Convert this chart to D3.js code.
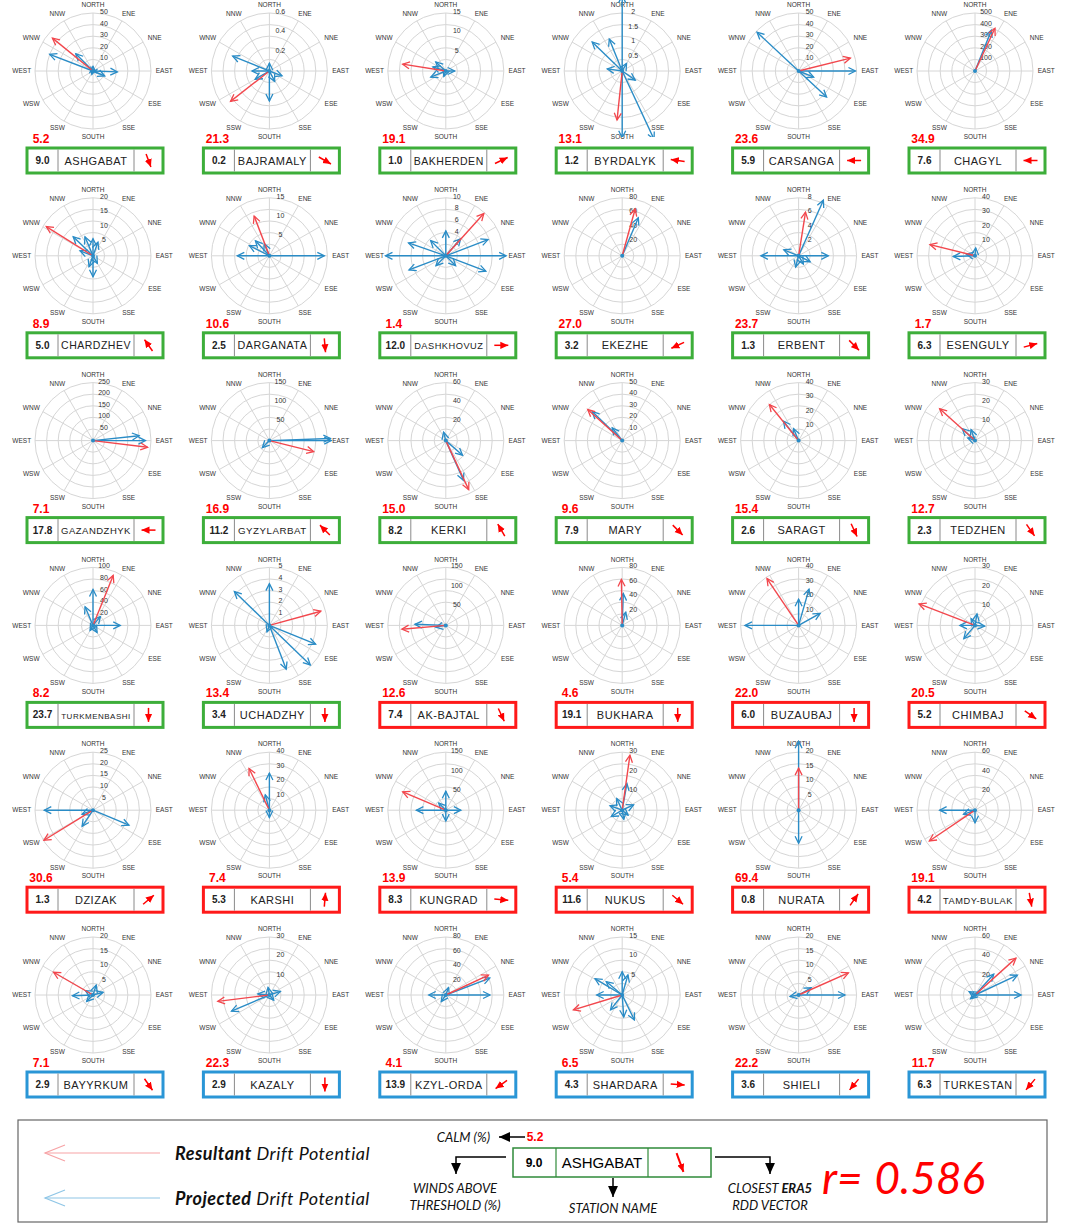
<!DOCTYPE html>
<html>
<head>
<meta charset="utf-8">
<script src="https://cdn.jsdelivr.net/npm/d3@7"></script>
<style>
  body { margin: 0; background: #fff; }
  svg { display: block; }
</style>
</head>
<body>
<div id="chart"></div>
<script>
var stations = ["ASHGABAT", "BAJRAMALY", "BAKHERDEN", "BYRDALYK", "CARSANGA", "CHAGYL",
    "CHARDZHEV", "DARGANATA", "DASHKHOVUZ", "EKEZHE", "ERBENT", "ESENGULY",
    "GAZANDZHYK", "GYZYLARBAT", "KERKI", "MARY", "SARAGT", "TEDZHEN",
    "TURKMENBASHI", "UCHADZHY", "AK-BAJTAL", "BUKHARA", "BUZAUBAJ", "CHIMBAJ",
    "DZIZAK", "KARSHI", "KUNGRAD", "NUKUS", "NURATA", "TAMDY-BULAK",
    "BAYYRKUM", "KAZALY", "KZYL-ORDA", "SHARDARA", "SHIELI", "TURKESTAN"];

// TM = green, UZ = red, KZ = blue
var country = ["TM", "TM", "TM", "TM", "TM", "TM",
    "TM", "TM", "TM", "TM", "TM", "TM",
    "TM", "TM", "TM", "TM", "TM", "TM",
    "TM", "TM", "UZ", "UZ", "UZ", "UZ",
    "UZ", "UZ", "UZ", "UZ", "UZ", "UZ",
    "KZ", "KZ", "KZ", "KZ", "KZ", "KZ"];

var calm = [5.2, 21.3, 19.1, 13.1, 23.6, 34.9,
    8.9, 10.6, 1.4, 27.0, 23.7, 1.7,
    7.1, 16.9, 15.0, 9.6, 15.4, 12.7,
    8.2, 13.4, 12.6, 4.6, 22.0, 20.5,
    30.6, 7.4, 13.9, 5.4, 69.4, 19.1,
    7.1, 22.3, 4.1, 6.5, 22.2, 11.7];

var aboveThreshold = [9.0, 0.2, 1.0, 1.2, 5.9, 7.6,
    5.0, 2.5, 12.0, 3.2, 1.3, 6.3,
    17.8, 11.2, 8.2, 7.9, 2.6, 2.3,
    23.7, 3.4, 7.4, 19.1, 6.0, 5.2,
    1.3, 5.3, 8.3, 11.6, 0.8, 4.2,
    2.9, 2.9, 13.9, 4.3, 3.6, 6.3];

var scaleMax = [50, 0.6, 15, 2, 50, 500,
    20, 15, 10, 80, 8, 40,
    250, 150, 60, 50, 40, 30,
    100, 5, 150, 80, 40, 30,
    25, 40, 150, 30, 20, 60,
    20, 30, 80, 15, 20, 60];

var tickStep = [10, 0.2, 5, 0.5, 10, 100,
    5, 5, 2, 20, 2, 10,
    50, 50, 20, 10, 10, 10,
    20, 1, 50, 20, 10, 10,
    5, 10, 50, 10, 5, 20,
    5, 10, 20, 5, 5, 20];

// closest ERA5 RDD vector, compass degrees the arrow points to
var era5Dir = [160, 120, 65, 278, 270, 270,
    325, 175, 90, 245, 135, 75,
    270, 315, 330, 135, 155, 145,
    180, 180, 155, 180, 180, 125,
    50, 5, 95, 130, 35, 170,
    145, 180, 235, 95, 220, 220];

// resultant drift potential [direction, magnitude]
var resultant = [[309, 45], [232, 0.51], [279, 11.3], [186, 1.7], [76, 46], [25, 407],
    [302, 19], [339, 11], [42, 9.8], [15.5, 67], [9, 6.1], [284, 32],
    [97, 237], [104, 118], [155, 56], [312, 40], [321, 32], [312, 24.6],
    [22, 93], [74.6, 4.6], [265, 114], [359, 63.5], [326, 39], [291, 31],
    [238.5, 24.8], [334, 32], [293, 121], [8, 28.7], [0, 14.5], [236, 57],
    [300, 15.7], [263, 26.9], [65, 65], [253, 13.2], [66, 18.8], [48, 57]];

// projected drift potential [direction, magnitude] per station
var projected = [
    [[291, 40], [315, 21], [92, 21], [113, 11], [0, 4], [200, 3]],
    [[292, 0.41], [180, 0.31], [270, 0.18], [111, 0.14], [0, 0.08], [153, 0.12], [240, 0.17]],
    [[312, 3.5], [248, 4.2], [90, 2.3], [287, 3.5], [200, 1.5]],
    [[0, 2.6], [180, 2.3], [155, 2.6], [314, 1.44], [338, 1.19], [278, 0.52], [125, 0.55], [30, 0.3]],
    [[90, 49], [313, 49], [133, 33], [112, 14]],
    [[22, 380]],
    [[314, 9.5], [337, 7.1], [0, 5.9], [20, 5], [291, 4.8], [180, 7.2], [200, 4], [150, 3]],
    [[90, 14.2], [270, 8.3], [297, 5.8], [317, 5.3], [337, 3.4]],
    [[270, 10.4], [90, 10.4], [69, 7.8], [111, 7.4], [289, 6.8], [249, 6.8], [0, 4.3], [315, 3.7], [41, 3.9], [135, 2.4], [225, 2.4]],
    [[23, 57]],
    [[24, 8.4], [270, 5.2], [90, 4.1], [292, 2.2], [117, 1.8], [195, 1.6], [150, 1.3]],
    [[268, 15], [5, 5.5], [280, 6]],
    [[90, 226], [84, 200]],
    [[90, 160], [88, 158], [225, 26]],
    [[156, 45], [131, 23], [345, 9]],
    [[314, 36], [322, 14]],
    [[322, 17], [337, 9]],
    [[313, 9], [340, 6], [290, 4]],
    [[0, 62], [337, 35], [90, 47], [150, 14], [210, 10], [40, 20]],
    [[314, 4.2], [0, 3.6], [112, 4.3], [134, 4.9], [159, 4.05], [200, 0.6]],
    [[272, 80], [260, 26]],
    [[2, 44], [15, 19]],
    [[270, 37], [16, 26], [0, 18], [61, 17]],
    [[10, 6], [270, 7.8], [95, 5], [220, 9], [330, 4]],
    [[270, 21], [112.6, 16.8], [214, 8.4], [250, 5]],
    [[0, 25.6], [345, 11], [180, 5]],
    [[270, 76], [0, 49], [90, 39], [180, 28], [315, 26]],
    [[10, 14], [290, 6.7], [65, 6.5], [240, 6.5], [170, 4.8], [130, 4], [335, 6.7]],
    [[0, 23.8], [180, 11.4]],
    [[270, 36.6], [180, 13], [250, 12.6]],
    [[268, 7.1], [18, 3.6], [75, 3.6], [225, 3.1], [300, 3]],
    [[247, 21.3], [72, 6], [275, 6], [350, 4], [140, 3.5]],
    [[90, 61], [69, 65], [270, 23.5], [20, 11], [215, 11]],
    [[270, 6.6], [301, 8.2], [310, 5.4], [154, 7.2], [176, 5.7], [218, 4.9], [16, 5.4], [0, 6]],
    [[90, 16], [60, 5], [260, 3]],
    [[90, 47.7], [65, 48.4], [42, 29], [300, 7], [230, 6]]
];

var dirLabels = ["NORTH", "ENE", "NNE", "EAST", "ESE", "SSE", "SOUTH", "SSW", "WSW", "WEST", "WNW", "NNW"];

var RED = "#f2474d", BLUE = "#2a8cc6";
var R = 58;

var boxColor = d3.scaleOrdinal()
    .domain(["TM", "UZ", "KZ"])
    .range(["#3dae3a", "#ff1a1a", "#2a96d6"]);

var colX = d3.scaleLinear().domain([0, 5]).range([93, 975]);
var rowY = d3.scaleLinear().domain([0, 5]).range([71, 995]);

var svg = d3.select("#chart")
    .append("svg")
    .attr("width", 1065)
    .attr("height", 1226);

var defs = svg.append("defs");

function openHead(id, color) {
    defs.append("marker")
        .attr("id", id)
        .attr("viewBox", "-8 -5 10 10")
        .attr("markerUnits", "userSpaceOnUse")
        .attr("markerWidth", 10)
        .attr("markerHeight", 10)
        .attr("refX", 0).attr("refY", 0)
        .attr("orient", "auto")
        .append("path")
        .attr("d", "M-7,-3.5L0,0L-7,3.5")
        .attr("fill", "none")
        .attr("stroke", color)
        .attr("stroke-width", 1.3);
}
openHead("headRed", RED);
openHead("headBlue", BLUE);

function solidHead(id, color, size) {
    defs.append("marker")
        .attr("id", id)
        .attr("viewBox", "-10 -5 10 10")
        .attr("markerUnits", "userSpaceOnUse")
        .attr("markerWidth", size)
        .attr("markerHeight", size)
        .attr("refX", 0).attr("refY", 0)
        .attr("orient", "auto")
        .append("path")
        .attr("d", "M-10,-4.5L0,0L-10,4.5Z")
        .attr("fill", color);
}
solidHead("era5Head", "#ff0000", 8);
solidHead("blackHead", "#000", 11);

function polar(deg, r) {
    var a = deg * Math.PI / 180;
    return [r * Math.sin(a), -r * Math.cos(a)];
}

// shrink a text until it fits in a cell
function fit(text, maxWidth, size) {
    var node = text.node();
    while (node.getComputedTextLength() > maxWidth && size > 6) {
        size -= 0.25;
        text.style("font-size", size + "px");
    }
}

stations.forEach(function (name, i) {
    var cx = colX(i % 6), cy = rowY(Math.floor(i / 6));
    var r = d3.scaleLinear().domain([0, scaleMax[i]]).range([0, R]);

    defs.append("clipPath")
        .attr("id", "clip" + i)
        .append("rect")
        .attr("x", -88).attr("y", -72)
        .attr("width", 176).attr("height", 138);

    var g = svg.append("g")
        .attr("transform", "translate(" + cx + "," + cy + ")");

    // grid rings and spokes
    g.selectAll(".ring")
        .data(d3.range(1, 6))
        .enter()
        .append("circle")
        .attr("r", function (d) { return R * d / 5; })
        .attr("fill", "none")
        .attr("stroke", "#d6d6d6")
        .attr("stroke-width", 1);

    g.selectAll(".spoke")
        .data(d3.range(12))
        .enter()
        .append("line")
        .attr("x2", function (d) { return polar(d * 30, R)[0]; })
        .attr("y2", function (d) { return polar(d * 30, R)[1]; })
        .attr("stroke", "#d6d6d6")
        .attr("stroke-width", 1);

    g.selectAll(".dirLabel")
        .data(dirLabels)
        .enter()
        .append("text")
        .attr("x", function (d, k) { return polar(k * 30, 66)[0] * 1.08; })
        .attr("y", function (d, k) { return polar(k * 30, 66)[1]; })
        .attr("dy", "0.35em")
        .attr("text-anchor", "middle")
        .style("font-family", "Liberation Sans, Arial, sans-serif")
        .style("font-size", "6.5px")
        .style("fill", "#333")
        .text(function (d) { return d; });

    var ticks = d3.range(1, Math.round(scaleMax[i] / tickStep[i]) + 1).map(function (k) {
        return +(k * tickStep[i]).toFixed(2);
    });
    g.selectAll(".tick")
        .data(ticks)
        .enter()
        .append("text")
        .attr("x", 11)
        .attr("y", function (d) { return -r(d) + 1; })
        .attr("text-anchor", "middle")
        .style("font-family", "Liberation Sans, Arial, sans-serif")
        .style("font-size", "7px")
        .style("fill", "#333")
        .text(function (d) { return d; });

    // arrows
    var arrows = g.append("g").attr("clip-path", "url(#clip" + i + ")");
    arrows.selectAll(".blue")
        .data(projected[i])
        .enter()
        .append("line")
        .attr("x2", function (d) { return polar(d[0], r(d[1]))[0]; })
        .attr("y2", function (d) { return polar(d[0], r(d[1]))[1]; })
        .attr("stroke", BLUE)
        .attr("stroke-width", 1.4)
        .attr("marker-end", "url(#headBlue)");

    arrows.append("line")
        .datum(resultant[i])
        .attr("x2", function (d) { return polar(d[0], r(d[1]))[0]; })
        .attr("y2", function (d) { return polar(d[0], r(d[1]))[1]; })
        .attr("stroke", RED)
        .attr("stroke-width", 1.4)
        .attr("marker-end", "url(#headRed)");

    g.append("circle").attr("r", 2).attr("fill", BLUE);

    // station box
    var bx = -66, by = 77, w1 = 31, w2 = 76, w3 = 29, bh = 25;
    var box = g.append("g").attr("transform", "translate(" + bx + "," + by + ")");
    box.append("rect")
        .attr("width", w1 + w2 + w3).attr("height", bh)
        .attr("fill", "#fff")
        .attr("stroke", boxColor(country[i]))
        .attr("stroke-width", 3);
    box.selectAll(".div")
        .data([w1, w1 + w2])
        .enter()
        .append("line")
        .attr("x1", function (d) { return d; }).attr("x2", function (d) { return d; })
        .attr("y1", 1.5).attr("y2", bh - 1.5)
        .attr("stroke", "#8a8a8a")
        .attr("stroke-width", 1);
    var valText = box.append("text")
        .attr("x", w1 / 2).attr("y", bh / 2 + 3.5)
        .attr("text-anchor", "middle")
        .style("font-family", "Liberation Sans, Arial, sans-serif")
        .style("font-size", "10px")
        .style("font-weight", "bold")
        .style("fill", "#222")
        .text(aboveThreshold[i].toFixed(1));
    fit(valText, w1 - 8, 10);
    var nameText = box.append("text")
        .attr("x", w1 + w2 / 2).attr("y", bh / 2 + 4)
        .attr("text-anchor", "middle")
        .style("font-family", "Liberation Sans, Arial, sans-serif")
        .style("font-size", "11px")
        .style("letter-spacing", "0.5px")
        .style("fill", "#222")
        .text(name);
    fit(nameText, w2 - 6, 11);
    var ac = [w1 + w2 + w3 / 2, bh / 2];
    var half = polar(era5Dir[i], 7);
    box.append("line")
        .attr("x1", ac[0] - half[0]).attr("y1", ac[1] - half[1])
        .attr("x2", ac[0] + half[0]).attr("y2", ac[1] + half[1])
        .attr("stroke", "#ff0000")
        .attr("stroke-width", 1.5)
        .attr("marker-end", "url(#era5Head)");

    g.append("text")
        .attr("x", bx + 14).attr("y", by - 5)
        .attr("text-anchor", "middle")
        .style("font-family", "Liberation Sans Narrow, Liberation Sans, Arial, sans-serif")
        .style("font-size", "12px")
        .style("font-weight", "bold")
        .style("fill", "#ff0000")
        .text(calm[i].toFixed(1));
});

// legend
var lg = svg.append("g");
lg.append("rect")
    .attr("x", 18).attr("y", 1120)
    .attr("width", 1029).attr("height", 102)
    .attr("fill", "none")
    .attr("stroke", "#666")
    .attr("stroke-width", 1.2);

var legendItems = [["Resultant", "#f7a3a6", 1153], ["Projected", "#8fc6e6", 1198]];
legendItems.forEach(function (d) {
    lg.append("line")
        .attr("x1", 160).attr("y1", d[2]).attr("x2", 45).attr("y2", d[2])
        .attr("stroke", d[1]).attr("stroke-width", 1.2);
    lg.append("path")
        .attr("d", "M65," + (d[2] - 8) + "L45," + d[2] + "L65," + (d[2] + 8))
        .attr("fill", "none")
        .attr("stroke", d[1]).attr("stroke-width", 1.2);
    var t = lg.append("text")
        .attr("x", 175).attr("y", d[2] + 7)
        .style("font-family", "Lato, Open Sans, sans-serif")
        .style("font-size", "18px")
        .style("font-style", "italic")
        .style("letter-spacing", "0.5px")
        .style("fill", "#111");
    t.append("tspan").style("font-weight", "bold").text(d[0]);
    t.append("tspan").text(" Drift Potential");
});

var italic = function (sel) {
    return sel.style("font-family", "Lato, Open Sans, sans-serif")
        .style("font-size", "13px")
        .style("font-style", "italic")
        .style("fill", "#111");
};

// example box
var ex = lg.append("g").attr("transform", "translate(513,1148)");
ex.append("rect").attr("width", 198).attr("height", 29)
    .attr("fill", "#fff").attr("stroke", "#2f8a3a").attr("stroke-width", 1.5);
[43, 135].forEach(function (x) {
    ex.append("line").attr("x1", x).attr("x2", x).attr("y1", 0).attr("y2", 29)
        .attr("stroke", "#2f8a3a").attr("stroke-width", 1.2);
});
ex.append("text").attr("x", 21).attr("y", 19).attr("text-anchor", "middle")
    .style("font-family", "Liberation Sans, Arial, sans-serif").style("font-size", "12px")
    .style("font-weight", "bold").text(aboveThreshold[0].toFixed(1));
ex.append("text").attr("x", 89).attr("y", 20).attr("text-anchor", "middle")
    .style("font-family", "Liberation Sans, Arial, sans-serif").style("font-size", "15px")
    .text(stations[0]);
var exHalf = polar(era5Dir[0], 10);
ex.append("line")
    .attr("x1", 167 - exHalf[0]).attr("y1", 14.5 - exHalf[1])
    .attr("x2", 167 + exHalf[0]).attr("y2", 14.5 + exHalf[1])
    .attr("stroke", "#ff0000").attr("stroke-width", 2)
    .attr("marker-end", "url(#era5Head)");

lg.append("text").attr("x", 535).attr("y", 1141).attr("text-anchor", "middle")
    .style("font-family", "Liberation Sans Narrow, Liberation Sans, Arial, sans-serif")
    .style("font-size", "12px").style("font-weight", "bold").style("fill", "#ff0000")
    .text(calm[0].toFixed(1));

var pointers = [
    "M525,1137H499",
    "M506,1157H456V1174",
    "M613,1178V1197",
    "M715,1157H770V1174"
];
lg.selectAll(".pointer")
    .data(pointers)
    .enter()
    .append("path")
    .attr("d", function (d) { return d; })
    .attr("fill", "none")
    .attr("stroke", "#000")
    .attr("stroke-width", 1.5)
    .attr("marker-end", "url(#blackHead)");

italic(lg.append("text").attr("x", 490).attr("y", 1142).attr("text-anchor", "end")).text("CALM (%)");
italic(lg.append("text").attr("x", 455).attr("y", 1193).attr("text-anchor", "middle")).text("WINDS ABOVE");
italic(lg.append("text").attr("x", 455).attr("y", 1210).attr("text-anchor", "middle")).text("THRESHOLD (%)");
italic(lg.append("text").attr("x", 613).attr("y", 1213).attr("text-anchor", "middle")).text("STATION NAME");
var era = italic(lg.append("text").attr("x", 770).attr("y", 1193).attr("text-anchor", "middle"));
era.append("tspan").text("CLOSEST ");
era.append("tspan").style("font-weight", "bold").text("ERA5");
italic(lg.append("text").attr("x", 770).attr("y", 1210).attr("text-anchor", "middle")).text("RDD VECTOR");

var rText = lg.append("text").attr("x", 822).attr("y", 1194)
    .style("font-family", "Lato, Open Sans, sans-serif")
    .style("font-size", "44px")
    .style("font-style", "italic")
    .style("fill", "#ff0000");
rText.append("tspan").text("r=");
rText.append("tspan").attr("dx", 12).text("0.586");
</script>
</body>
</html>
